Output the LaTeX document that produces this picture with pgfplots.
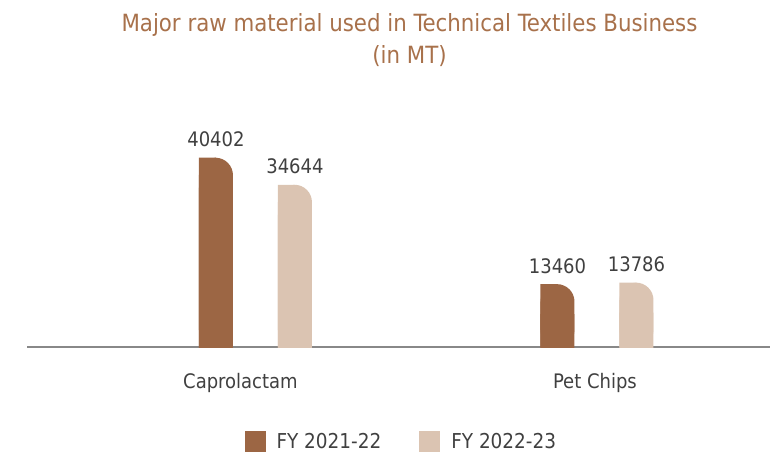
\documentclass[border=0pt]{standalone}
\usepackage{pgfplots}
\pgfplotsset{compat=1.18}
\usepackage{pgfplotstable}
\usepackage{fontspec}
\setmainfont{DejaVu Sans Condensed}

\definecolor{darkbar}{HTML}{9C6644}
\definecolor{lightbar}{HTML}{DBC4B2}
\definecolor{titlec}{HTML}{A8714B}
\definecolor{txt}{HTML}{404040}
\definecolor{axisc}{HTML}{888888}

% raw material consumption, MT
\pgfplotstableread{
x  fyA    fyB
0  40402  34644
1  13460  13786
}\rawdata

\begin{document}
\begin{tikzpicture}
\useasboundingbox (0,0) rectangle (770bp,457bp);
\begin{axis}[
    at={(27bp,109.7bp)}, anchor=south west,
    scale only axis, width=743bp, height=234.6bp,
    xmin=-0.669, xmax=1.5066, ymin=0, ymax=50000,
    axis y line=none, ytick=\empty,
    axis x line*=bottom,
    axis line style={draw=axisc, line width=1.8bp},
    xtick={-0.044,0.994}, xticklabels={Caprolactam, Pet Chips},
    major tick length=0,
    xticklabel style={anchor=base, yshift=-41bp, font=\fontsize{20bp}{24bp}\selectfont, text=txt},
    title={Major raw material used in Technical Textiles Business\\(in MT)},
    title style={at={(axis description cs:0.5148,1.400)}, anchor=north, align=center,
        inner sep=0pt, text=titlec, font=\fontsize{23.7bp}{32bp}\selectfont},
    point meta=explicit symbolic,
    nodes near coords style={anchor=base, yshift=11bp, inner sep=0pt,
        font=\fontsize{20bp}{24bp}\selectfont, text=txt},
    legend columns=2,
    legend style={at={(axis description cs:0.2925,-0.3574)}, anchor=north west,
        draw=none, fill=none, inner sep=0pt, row sep=0pt,
        font=\fontsize{20.5bp}{24bp}\selectfont, text=txt,
        nodes={inner sep=0pt},
        /tikz/every even column/.append style={column sep=38bp}},
    legend image code/.code={
        \fill[sharp corners] (0bp,-11bp) rectangle (21bp,10bp);
        \path (32bp,0bp);},
    clip=true,
]
% FY 2021-22: rounded bar, then squared left half and squared foot
\addplot[ybar, bar width=34bp, bar shift=-39.5bp, fill=darkbar, draw=none,
    rounded corners=17.5bp, nodes near coords,
    every node near coord/.append style={xshift=-39.5bp}]
    table[x=x, y=fyA, meta=fyA] {\rawdata};
\addlegendentry{FY 2021-22}
\addplot[ybar, bar width=17bp, bar shift=-48bp, fill=darkbar, draw=none, forget plot]
    table[x=x, y=fyA] {\rawdata};
\addplot[ybar, bar width=34bp, bar shift=-39.5bp, fill=darkbar, draw=none, forget plot,
    yshift=-30bp]
    table[x=x, y=fyA] {\rawdata};
% FY 2022-23
\addplot[ybar, bar width=34bp, bar shift=39.5bp, fill=lightbar, draw=none,
    rounded corners=17.5bp, nodes near coords,
    every node near coord/.append style={xshift=39.5bp}]
    table[x=x, y=fyB, meta=fyB] {\rawdata};
\addlegendentry{FY 2022-23}
\addplot[ybar, bar width=17bp, bar shift=31bp, fill=lightbar, draw=none, forget plot]
    table[x=x, y=fyB] {\rawdata};
\addplot[ybar, bar width=34bp, bar shift=39.5bp, fill=lightbar, draw=none, forget plot,
    yshift=-30bp]
    table[x=x, y=fyB] {\rawdata};
\end{axis}
\end{tikzpicture}
\end{document}
